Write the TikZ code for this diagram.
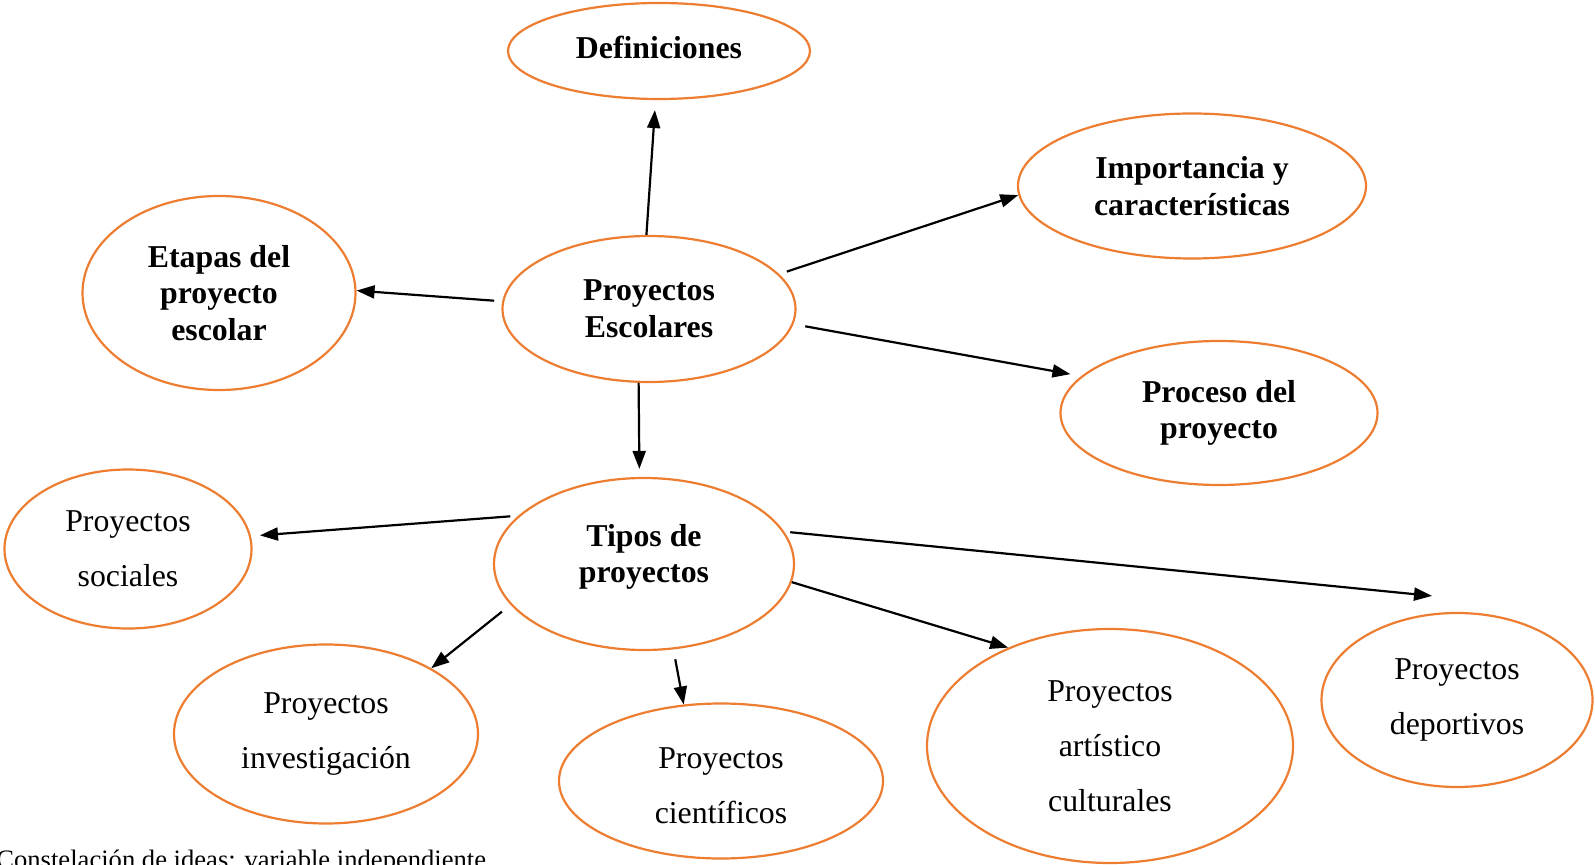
\documentclass[tikz,border=0pt]{standalone}
\usepackage{fontspec}
\setmainfont{Liberation Serif}
\usetikzlibrary{positioning,calc,arrows.meta,shapes.geometric}
\definecolor{naranja}{HTML}{ED7D31}

\begin{document}
\begin{tikzpicture}[x=0.5pt,y=-0.5pt,
  burbuja/.style={ellipse,draw=naranja,line width=1.1pt,inner sep=0pt,align=center},
  negrita/.style={font=\fontsize{15.9pt}{18.3pt}\selectfont\bfseries},
  normal/.style={font=\fontsize{15.9pt}{27.5pt}\selectfont},
  flecha/.style={-{Triangle[length=9pt,width=6.5pt]},line width=1.1pt}]
\useasboundingbox (0,0) rectangle (1595,865);
% nodo central
\node[burbuja,negrita,minimum width=146.5pt,minimum height=73pt] (pe) at (649,309) {Proyectos\\Escolares};
\node[burbuja,negrita,minimum width=151pt,minimum height=48pt,text depth=4pt] (def) at (659,51) {Definiciones};
\node[burbuja,negrita,minimum width=174pt,minimum height=72.5pt] (imp) at (1192,186) {Importancia y\\caracter\'isticas};
\node[burbuja,negrita,minimum width=136.5pt,minimum height=97pt] (etp) at (219,293) {Etapas del\\proyecto\\escolar};
\node[burbuja,negrita,minimum width=158.5pt,minimum height=72pt] (proc) at (1219,413) {Proceso del\\proyecto};
\node[burbuja,negrita,minimum width=150pt,minimum height=86pt,text depth=10.5pt] (tip) at (644,564) {Tipos de\\proyectos};
% tipos
\node[burbuja,normal,minimum width=123.5pt,minimum height=79.5pt] (soc) at (128,549) {Proyectos\\sociales};
\node[burbuja,normal,minimum width=152pt,minimum height=89.5pt] (inv) at (326,734) {Proyectos\\investigaci\'on};
\node[burbuja,normal,minimum width=162pt,minimum height=77.5pt,text height=43pt] (cie) at (721,781) {Proyectos\\cient\'ificos};
\node[burbuja,normal,minimum width=183pt,minimum height=117pt] (art) at (1110,746) {Proyectos\\art\'istico\\culturales};
\node[burbuja,normal,minimum width=135.5pt,minimum height=87pt] (dep) at (1457,700) {Proyectos\\deportivos};
\node[anchor=base west,inner sep=0pt,font=\fontsize{13.3pt}{16pt}\selectfont] (pie) at (-4,868) {Constelaci\'on de ideas: variable independiente};
% flechas
\draw[flecha,shorten >=5pt] (pe.92) -- (def.266);
\draw[flecha,shorten <=4pt] (pe.15) -- (imp.183);
\draw[flecha,shorten <=4pt] (pe.177) -- (etp.1);
\draw[flecha,shorten <=6pt,shorten >=5.5pt] (pe.354) -- (proc.165);
\draw[flecha,shorten >=4pt] (pe.262) -- (tip.93);
\draw[flecha,shorten <=4pt,shorten >=4.5pt] (tip.159) -- (soc.6);
\draw[flecha,shorten <=3pt] (tip.13) -- ($(dep.north)+(-25,-16)$);
\draw[flecha] (tip.353) -- (art.136);
\draw[flecha,shorten <=5pt] (tip.289) -- (cie.116);
\draw[flecha,shorten <=5.5pt] (tip.197) -- (inv.32);
\end{tikzpicture}
\end{document}
